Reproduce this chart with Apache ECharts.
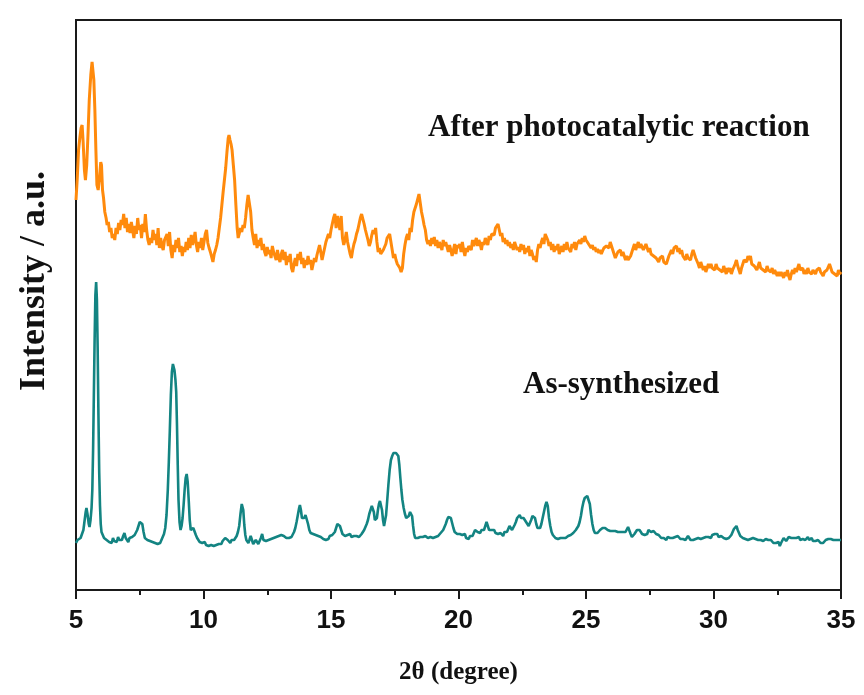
<!DOCTYPE html>
<html><head><meta charset="utf-8">
<script src="https://cdn.jsdelivr.net/npm/echarts@6/dist/echarts.min.js"></script>
<style>html,body{margin:0;padding:0;background:#fff}#c{width:864px;height:695px}</style>
</head><body><div id="c"></div>
<script>
// 2θ ticks
var xTicks = [5, 10, 15, 20, 25, 30, 35];
var seriesNames = ['After photocatalytic reaction', 'As-synthesized'];
// After photocatalytic reaction [2θ, intensity a.u.]
var afterData = [
[5.00,390],[5.05,412],[5.10,440],[5.15,452],[5.20,462],[5.24,465],[5.28,448],[5.33,420],[5.37,410],[5.42,425],[5.47,455],[5.52,490],[5.58,515],[5.63,528],[5.66,530],[5.70,510],[5.74,480],[5.78,440],[5.82,405],[5.87,400],[5.92,412],[5.97,428],[6.00,425],[6.04,400],[6.08,392],[6.13,378],[6.18,372],[6.22,365],[6.27,368],[6.32,358],[6.37,362],[6.42,352],[6.47,356],[6.52,350],[6.57,362],[6.62,356],[6.67,367],[6.72,360],[6.77,370],[6.82,365],[6.87,376],[6.92,362],[6.97,372],[7.02,358],[7.07,366],[7.12,357],[7.17,368],[7.22,360],[7.27,352],[7.32,364],[7.37,356],[7.42,372],[7.47,360],[7.52,365],[7.57,352],[7.62,366],[7.67,358],[7.72,376],[7.77,360],[7.82,350],[7.87,345],[7.92,352],[7.97,347],[8.02,360],[8.07,350],[8.12,356],[8.17,345],[8.22,362],[8.27,342],[8.32,352],[8.37,344],[8.42,340],[8.47,350],[8.52,348],[8.57,356],[8.62,344],[8.67,358],[8.72,340],[8.77,332],[8.82,345],[8.87,338],[8.92,350],[8.97,342],[9.02,352],[9.07,338],[9.12,344],[9.17,334],[9.22,343],[9.27,338],[9.32,348],[9.37,340],[9.42,352],[9.47,342],[9.52,355],[9.57,345],[9.62,350],[9.67,358],[9.72,345],[9.77,338],[9.82,348],[9.87,342],[9.92,352],[9.97,340],[10.02,348],[10.07,356],[10.12,360],[10.17,347],[10.22,342],[10.27,338],[10.32,333],[10.37,328],[10.42,336],[10.47,340],[10.52,345],[10.57,352],[10.62,362],[10.67,372],[10.72,385],[10.77,398],[10.82,410],[10.87,422],[10.92,438],[10.97,452],[11.00,455],[11.04,450],[11.08,446],[11.12,440],[11.17,425],[11.22,410],[11.27,385],[11.32,362],[11.36,352],[11.40,356],[11.45,362],[11.50,358],[11.55,365],[11.60,362],[11.65,372],[11.70,385],[11.75,395],[11.80,394],[11.85,378],[11.90,360],[11.95,352],[12.00,345],[12.05,356],[12.10,342],[12.15,350],[12.20,344],[12.25,352],[12.30,340],[12.35,346],[12.40,338],[12.45,334],[12.50,343],[12.55,336],[12.60,340],[12.65,332],[12.70,344],[12.75,338],[12.80,334],[12.85,330],[12.90,340],[12.95,332],[13.00,328],[13.05,336],[13.10,340],[13.15,330],[13.20,338],[13.25,325],[13.30,334],[13.35,328],[13.40,336],[13.45,322],[13.50,318],[13.55,326],[13.60,332],[13.65,324],[13.70,336],[13.75,330],[13.80,338],[13.85,326],[13.90,332],[13.95,322],[14.00,330],[14.05,325],[14.10,334],[14.15,326],[14.20,330],[14.25,320],[14.30,322],[14.35,332],[14.40,328],[14.45,335],[14.50,340],[14.55,345],[14.60,338],[14.65,330],[14.70,332],[14.75,342],[14.80,348],[14.85,352],[14.90,356],[14.95,352],[15.00,360],[15.05,366],[15.10,372],[15.15,376],[15.20,362],[15.25,374],[15.30,368],[15.35,360],[15.40,374],[15.45,352],[15.50,345],[15.55,350],[15.60,358],[15.65,348],[15.70,346],[15.75,336],[15.80,332],[15.85,340],[15.90,346],[15.95,350],[16.00,356],[16.05,360],[16.10,366],[16.15,372],[16.20,376],[16.25,374],[16.30,366],[16.35,360],[16.40,362],[16.45,350],[16.50,344],[16.55,348],[16.60,355],[16.65,360],[16.70,356],[16.75,362],[16.80,348],[16.85,338],[16.90,342],[16.95,336],[17.00,334],[17.05,340],[17.10,338],[17.15,346],[17.20,352],[17.25,350],[17.30,356],[17.35,355],[17.40,340],[17.45,332],[17.50,336],[17.55,330],[17.60,326],[17.65,325],[17.70,322],[17.75,318],[17.80,322],[17.85,336],[17.90,345],[17.95,352],[18.00,356],[18.05,350],[18.10,362],[18.15,358],[18.20,370],[18.25,378],[18.30,380],[18.35,386],[18.40,388],[18.45,396],[18.50,394],[18.55,378],[18.60,372],[18.65,365],[18.70,360],[18.75,350],[18.80,346],[18.85,350],[18.90,344],[18.95,352],[19.00,346],[19.05,353],[19.10,344],[19.15,350],[19.20,342],[19.25,348],[19.30,346],[19.35,340],[19.40,350],[19.45,344],[19.50,348],[19.55,350],[19.60,338],[19.65,345],[19.70,340],[19.75,334],[19.80,340],[19.85,346],[19.90,336],[19.95,345],[20.00,342],[20.05,346],[20.10,338],[20.15,348],[20.20,340],[20.25,334],[20.30,342],[20.35,338],[20.40,344],[20.45,346],[20.50,340],[20.55,350],[20.60,344],[20.65,348],[20.70,352],[20.75,344],[20.80,350],[20.85,346],[20.90,340],[20.95,348],[21.00,345],[21.05,352],[21.10,348],[21.15,345],[21.20,354],[21.25,350],[21.30,356],[21.35,358],[21.40,355],[21.45,362],[21.50,360],[21.55,366],[21.60,360],[21.65,354],[21.70,357],[21.75,348],[21.80,352],[21.85,346],[21.90,350],[21.95,344],[22.00,348],[22.05,342],[22.10,346],[22.15,340],[22.20,348],[22.25,344],[22.30,340],[22.35,343],[22.40,338],[22.45,346],[22.50,340],[22.55,345],[22.60,336],[22.65,342],[22.70,338],[22.75,344],[22.80,334],[22.85,340],[22.90,336],[22.95,330],[23.00,334],[23.05,328],[23.10,340],[23.15,346],[23.20,342],[23.25,348],[23.30,352],[23.35,346],[23.40,356],[23.45,358],[23.50,350],[23.55,344],[23.60,348],[23.65,340],[23.70,346],[23.75,338],[23.80,344],[23.85,340],[23.90,346],[23.95,336],[24.00,340],[24.05,344],[24.10,338],[24.15,346],[24.20,340],[24.25,348],[24.30,342],[24.35,344],[24.40,338],[24.45,346],[24.50,342],[24.55,348],[24.60,340],[24.65,346],[24.70,344],[24.75,350],[24.80,346],[24.85,352],[24.90,348],[24.95,354],[25.00,350],[25.05,352],[25.10,346],[25.15,348],[25.20,342],[25.25,345],[25.30,340],[25.35,343],[25.40,338],[25.45,341],[25.50,337],[25.55,340],[25.60,336],[25.65,338],[25.70,342],[25.75,340],[25.80,344],[25.85,346],[25.90,342],[25.95,348],[26.00,346],[26.05,340],[26.10,336],[26.15,332],[26.20,334],[26.25,338],[26.30,336],[26.35,340],[26.40,334],[26.45,338],[26.50,336],[26.55,330],[26.60,334],[26.65,330],[26.70,328],[26.75,334],[26.80,338],[26.85,342],[26.90,346],[26.95,340],[27.00,344],[27.05,348],[27.10,342],[27.15,346],[27.20,344],[27.25,340],[27.30,342],[27.35,346],[27.40,342],[27.45,338],[27.50,342],[27.55,336],[27.60,338],[27.65,334],[27.70,336],[27.75,332],[27.80,334],[27.85,328],[27.90,332],[27.95,330],[28.00,334],[28.05,328],[28.10,330],[28.15,326],[28.20,328],[28.25,334],[28.30,336],[28.35,340],[28.40,336],[28.45,342],[28.50,340],[28.55,344],[28.60,338],[28.65,342],[28.70,336],[28.75,340],[28.80,334],[28.85,336],[28.90,330],[28.95,336],[29.00,332],[29.05,334],[29.10,330],[29.15,336],[29.20,340],[29.25,336],[29.30,332],[29.35,330],[29.40,326],[29.45,322],[29.50,328],[29.55,324],[29.60,320],[29.65,324],[29.70,318],[29.75,322],[29.80,326],[29.85,322],[29.90,326],[29.95,322],[30.00,324],[30.05,320],[30.10,326],[30.15,322],[30.20,324],[30.25,320],[30.30,322],[30.35,318],[30.40,324],[30.45,320],[30.50,316],[30.55,322],[30.60,318],[30.65,322],[30.70,316],[30.75,320],[30.80,318],[30.85,326],[30.90,330],[30.95,324],[31.00,320],[31.05,316],[31.10,322],[31.15,326],[31.20,330],[31.25,332],[31.30,328],[31.35,334],[31.40,330],[31.45,334],[31.50,326],[31.55,328],[31.60,324],[31.65,326],[31.70,320],[31.75,324],[31.80,328],[31.85,322],[31.90,324],[31.95,320],[32.00,322],[32.05,318],[32.10,324],[32.15,320],[32.20,322],[32.25,318],[32.30,322],[32.35,316],[32.40,320],[32.45,318],[32.50,314],[32.55,318],[32.60,314],[32.65,318],[32.70,316],[32.75,312],[32.80,318],[32.85,314],[32.90,320],[32.95,314],[33.00,310],[33.05,316],[33.10,320],[33.15,316],[33.20,322],[33.25,318],[33.30,322],[33.35,326],[33.40,320],[33.45,318],[33.50,322],[33.55,316],[33.60,320],[33.65,316],[33.70,322],[33.75,318],[33.80,320],[33.85,316],[33.90,320],[33.95,318],[34.00,316],[34.05,320],[34.10,318],[34.15,322],[34.20,318],[34.25,320],[34.30,314],[34.35,318],[34.40,316],[34.45,320],[34.50,322],[34.55,326],[34.60,322],[34.65,318],[34.70,320],[34.75,316],[34.80,318],[34.85,314],[34.90,320],[34.95,316],[35.00,318]
];
// As-synthesized [2θ, intensity a.u.]
var asData = [
[5.00,47],[5.06,50],[5.12,48],[5.18,52],[5.24,54],[5.29,60],[5.34,70],[5.38,78],[5.41,82],[5.45,76],[5.50,66],[5.53,63],[5.57,70],[5.61,82],[5.64,100],[5.67,140],[5.70,195],[5.73,250],[5.76,295],[5.79,308],[5.82,290],[5.85,240],[5.88,175],[5.91,118],[5.94,85],[5.97,66],[6.00,58],[6.05,55],[6.10,52],[6.15,54],[6.20,50],[6.25,52],[6.30,48],[6.35,50],[6.40,47],[6.45,52],[6.50,49],[6.55,51],[6.60,48],[6.65,53],[6.70,50],[6.75,52],[6.80,50],[6.85,54],[6.90,57],[6.95,52],[7.00,50],[7.05,48],[7.10,52],[7.15,50],[7.20,53],[7.25,51],[7.30,55],[7.35,56],[7.40,60],[7.45,64],[7.50,68],[7.55,70],[7.60,66],[7.65,58],[7.70,52],[7.75,53],[7.80,50],[7.85,52],[7.90,49],[7.95,51],[8.00,48],[8.05,50],[8.10,47],[8.15,49],[8.20,46],[8.25,48],[8.30,47],[8.35,50],[8.40,52],[8.45,56],[8.50,62],[8.55,75],[8.60,100],[8.64,128],[8.68,160],[8.72,195],[8.76,218],[8.80,226],[8.83,228],[8.86,220],[8.90,210],[8.93,198],[8.96,165],[8.99,125],[9.02,90],[9.06,68],[9.10,60],[9.14,64],[9.18,72],[9.22,85],[9.26,100],[9.30,112],[9.34,116],[9.38,108],[9.42,90],[9.46,70],[9.50,60],[9.55,58],[9.60,62],[9.65,60],[9.70,55],[9.75,52],[9.80,50],[9.85,48],[9.90,50],[9.95,47],[10.00,46],[10.05,48],[10.10,45],[10.15,47],[10.20,44],[10.25,46],[10.30,45],[10.35,47],[10.40,44],[10.45,46],[10.50,45],[10.55,47],[10.60,46],[10.65,48],[10.70,46],[10.75,49],[10.80,48],[10.85,52],[10.90,54],[10.95,50],[11.00,48],[11.05,47],[11.10,50],[11.15,48],[11.20,50],[11.25,52],[11.30,54],[11.35,58],[11.40,64],[11.45,76],[11.50,86],[11.53,88],[11.56,80],[11.60,65],[11.64,55],[11.68,50],[11.72,48],[11.76,47],[11.80,50],[11.85,54],[11.90,50],[11.95,46],[12.00,48],[12.05,50],[12.10,48],[12.15,46],[12.20,49],[12.25,52],[12.30,56],[12.35,50],[12.40,48],[12.45,49],[12.50,51],[12.55,50],[12.60,52],[12.65,51],[12.70,53],[12.75,52],[12.80,54],[12.85,53],[12.90,55],[12.95,54],[13.00,56],[13.05,55],[13.10,57],[13.15,54],[13.20,56],[13.25,52],[13.30,50],[13.35,52],[13.40,50],[13.45,53],[13.50,55],[13.55,58],[13.60,62],[13.65,68],[13.70,75],[13.75,82],[13.78,85],[13.82,80],[13.86,72],[13.90,70],[13.95,72],[14.00,75],[14.05,73],[14.10,66],[14.15,60],[14.20,57],[14.25,58],[14.30,56],[14.35,57],[14.40,55],[14.45,56],[14.50,54],[14.55,55],[14.60,53],[14.65,54],[14.70,51],[14.75,53],[14.80,50],[14.85,52],[14.90,51],[14.95,54],[15.00,53],[15.05,55],[15.10,56],[15.15,58],[15.20,62],[15.25,66],[15.30,68],[15.35,64],[15.40,60],[15.45,56],[15.50,55],[15.55,54],[15.60,53],[15.65,55],[15.70,54],[15.75,56],[15.80,53],[15.85,55],[15.90,54],[15.95,56],[16.00,54],[16.05,55],[16.10,53],[16.15,54],[16.20,56],[16.25,58],[16.30,60],[16.35,63],[16.40,66],[16.45,70],[16.50,76],[16.55,80],[16.60,84],[16.64,84],[16.68,78],[16.72,70],[16.76,68],[16.80,72],[16.84,80],[16.88,86],[16.92,89],[16.96,88],[17.00,80],[17.04,70],[17.08,64],[17.12,66],[17.16,75],[17.20,88],[17.25,105],[17.30,120],[17.35,130],[17.40,134],[17.45,137],[17.50,138],[17.55,137],[17.60,137],[17.64,134],[17.68,125],[17.72,112],[17.76,100],[17.80,90],[17.85,82],[17.90,76],[17.95,72],[18.00,72],[18.05,74],[18.10,78],[18.14,80],[18.18,74],[18.22,64],[18.26,56],[18.30,52],[18.35,50],[18.40,52],[18.45,51],[18.50,53],[18.55,52],[18.60,53],[18.65,51],[18.70,54],[18.75,53],[18.80,52],[18.85,54],[18.90,53],[18.95,54],[19.00,52],[19.05,54],[19.10,53],[19.15,55],[19.20,54],[19.25,55],[19.30,57],[19.35,58],[19.40,60],[19.45,63],[19.50,66],[19.55,70],[19.60,73],[19.65,74],[19.70,72],[19.75,67],[19.80,62],[19.85,58],[19.90,57],[19.95,56],[20.00,55],[20.05,56],[20.10,54],[20.15,55],[20.20,53],[20.25,56],[20.30,52],[20.35,50],[20.40,51],[20.45,54],[20.50,56],[20.55,54],[20.60,56],[20.65,60],[20.70,62],[20.75,58],[20.80,56],[20.85,57],[20.90,60],[20.95,58],[21.00,60],[21.05,64],[21.10,68],[21.15,66],[21.20,60],[21.25,62],[21.30,60],[21.35,58],[21.40,60],[21.45,57],[21.50,58],[21.55,56],[21.60,55],[21.65,57],[21.70,56],[21.75,54],[21.80,58],[21.85,56],[21.90,58],[21.95,60],[22.00,64],[22.05,63],[22.10,60],[22.15,62],[22.20,65],[22.25,68],[22.30,72],[22.35,74],[22.40,75],[22.45,72],[22.50,70],[22.55,72],[22.60,70],[22.65,68],[22.70,66],[22.75,64],[22.80,66],[22.85,70],[22.90,74],[22.95,76],[23.00,72],[23.05,66],[23.10,62],[23.15,60],[23.20,62],[23.25,66],[23.30,72],[23.35,78],[23.40,84],[23.45,88],[23.50,84],[23.55,72],[23.60,64],[23.65,58],[23.70,55],[23.75,53],[23.80,52],[23.85,53],[23.90,51],[23.95,53],[24.00,52],[24.05,54],[24.10,52],[24.15,54],[24.20,52],[24.25,53],[24.30,54],[24.35,53],[24.40,55],[24.45,56],[24.50,57],[24.55,58],[24.60,60],[24.65,62],[24.70,64],[24.75,68],[24.80,74],[24.85,82],[24.90,88],[24.95,92],[25.00,94],[25.05,94],[25.10,92],[25.15,86],[25.20,75],[25.25,66],[25.30,60],[25.35,57],[25.40,56],[25.45,57],[25.50,58],[25.55,60],[25.60,61],[25.65,62],[25.70,60],[25.75,62],[25.80,61],[25.85,60],[25.90,61],[25.95,59],[26.00,60],[26.05,59],[26.10,61],[26.15,59],[26.20,60],[26.25,58],[26.30,60],[26.35,58],[26.40,59],[26.45,58],[26.50,60],[26.55,58],[26.60,60],[26.65,63],[26.70,64],[26.75,56],[26.80,53],[26.85,55],[26.90,56],[26.95,58],[27.00,60],[27.05,62],[27.10,60],[27.15,58],[27.20,56],[27.25,54],[27.30,55],[27.35,53],[27.40,56],[27.45,60],[27.50,59],[27.55,58],[27.60,60],[27.65,59],[27.70,57],[27.75,56],[27.80,54],[27.85,55],[27.90,53],[27.95,52],[28.00,54],[28.05,52],[28.10,51],[28.15,50],[28.20,53],[28.25,55],[28.30,52],[28.35,54],[28.40,52],[28.45,51],[28.50,53],[28.55,52],[28.60,54],[28.65,52],[28.70,51],[28.75,50],[28.80,51],[28.85,52],[28.90,50],[28.95,52],[29.00,54],[29.05,52],[29.10,50],[29.15,51],[29.20,50],[29.25,52],[29.30,51],[29.35,50],[29.40,52],[29.45,50],[29.50,51],[29.55,50],[29.60,52],[29.65,54],[29.70,53],[29.75,55],[29.80,53],[29.85,54],[29.90,52],[29.95,55],[30.00,54],[30.05,56],[30.10,54],[30.15,56],[30.20,53],[30.25,52],[30.30,54],[30.35,53],[30.40,52],[30.45,53],[30.50,51],[30.55,53],[30.60,52],[30.65,54],[30.70,55],[30.75,58],[30.80,61],[30.85,63],[30.90,64],[30.95,60],[31.00,57],[31.05,54],[31.10,53],[31.15,52],[31.20,53],[31.25,51],[31.30,52],[31.35,50],[31.40,52],[31.45,51],[31.50,50],[31.55,52],[31.60,50],[31.65,51],[31.70,49],[31.75,50],[31.80,52],[31.85,50],[31.90,51],[31.95,49],[32.00,50],[32.05,51],[32.10,49],[32.15,50],[32.20,48],[32.25,50],[32.30,49],[32.35,47],[32.40,49],[32.45,47],[32.50,46],[32.55,48],[32.60,44],[32.65,47],[32.70,49],[32.75,52],[32.80,50],[32.85,49],[32.90,51],[32.95,53],[33.00,51],[33.05,52],[33.10,54],[33.15,52],[33.20,50],[33.25,52],[33.30,51],[33.35,53],[33.40,50],[33.45,52],[33.50,51],[33.55,53],[33.60,50],[33.65,52],[33.70,53],[33.75,50],[33.80,51],[33.85,52],[33.90,49],[33.95,50],[34.00,49],[34.05,48],[34.10,50],[34.15,48],[34.20,47],[34.25,48],[34.30,47],[34.35,48],[34.40,50],[34.45,49],[34.50,51],[34.55,50],[34.60,51],[34.65,49],[34.70,50],[34.75,51],[34.80,50],[34.85,51],[34.90,50],[34.95,50],[35.00,50]
];

var chart = echarts.init(document.getElementById('c'), null, {renderer: 'canvas'});
var serif = '"Liberation Serif", "Times New Roman", serif';
var sans = '"Liberation Sans Narrow", "Arial Narrow", "Liberation Sans", Arial, sans-serif';
chart.setOption({
  animation: false,
  backgroundColor: '#ffffff',
  grid: {left: 76, right: 23, top: 20, bottom: 105, show: true, borderColor: '#1a1a1a', borderWidth: 2, backgroundColor: 'transparent'},
  xAxis: {
    type: 'value', min: xTicks[0], max: xTicks[xTicks.length - 1], interval: 5,
    name: '2θ (degree)', nameLocation: 'middle', nameGap: 70,
    nameTextStyle: {fontFamily: serif, fontWeight: 'bold', fontSize: 25, color: '#111'},
    axisLine: {show: true, lineStyle: {color: '#1a1a1a', width: 2}},
    axisTick: {show: true, inside: false, length: 9, lineStyle: {color: '#1a1a1a', width: 2}},
    minorTick: {show: true, splitNumber: 2, length: 5, lineStyle: {color: '#1a1a1a', width: 2}},
    splitLine: {show: false},
    axisLabel: {margin: 18, fontFamily: sans, fontWeight: 'bold', fontSize: 26, color: '#111', showMinLabel: true, showMaxLabel: true}
  },
  yAxis: {
    type: 'value', min: 0, max: 570,
    axisLine: {show: false}, axisTick: {show: false}, axisLabel: {show: false}, splitLine: {show: false}
  },
  series: [
    {name: seriesNames[0], type: 'line', data: afterData, showSymbol: false, smooth: false,
     lineStyle: {color: '#FF8A0C', width: 3}, z: 3},
    {name: seriesNames[1], type: 'line', data: asData, showSymbol: false, smooth: false,
     lineStyle: {color: '#138482', width: 2.6}, z: 3}
  ],
  graphic: [
    {type: 'text', x: 428, y: 128, style: {text: seriesNames[0], font: 'bold 31px ' + serif, fill: '#111', align: 'left', verticalAlign: 'middle'}},
    {type: 'text', x: 523, y: 385, style: {text: seriesNames[1], font: 'bold 31px ' + serif, fill: '#111', align: 'left', verticalAlign: 'middle'}},
    {type: 'text', x: 35, y: 281, rotation: Math.PI / 2,
     style: {text: 'Intensity / a.u.', font: 'bold 36px ' + serif, fill: '#111', align: 'center', verticalAlign: 'middle'}}
  ]
});
</script>
</body></html>
